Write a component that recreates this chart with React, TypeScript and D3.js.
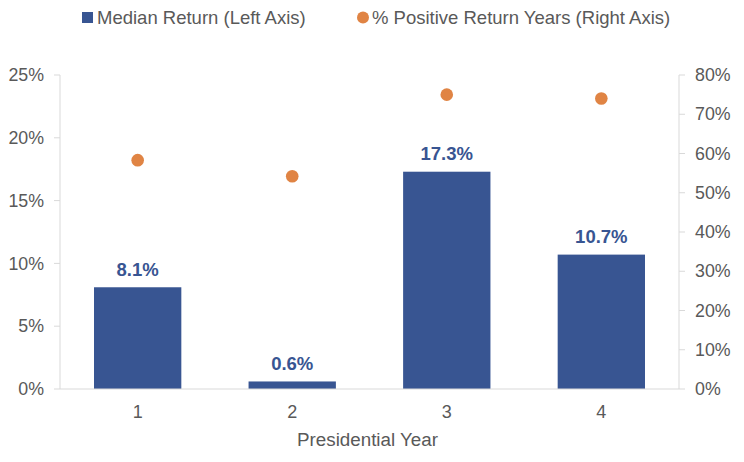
import React from "react";
import * as d3 from "d3";

const categories = ["1", "2", "3", "4"];
const medianReturn = [8.1, 0.6, 17.3, 10.7];
const positiveYears = [58.3, 54.2, 75.0, 74.0];
const leftTicks = [0, 5, 10, 15, 20, 25];
const rightTicks = [0, 10, 20, 30, 40, 50, 60, 70, 80];

const W = 744;
const H = 462;
const FONT = "'Liberation Sans', Arial, sans-serif";
const TEXT = "#595959";
const AXIS = "#d9d9d9";
const BLUE = "#385592";
const ORANGE = "#e08444";

export default function App() {
  const left = 60;
  const right = 679;
  const top = 75;
  const bottom = 389;

  const x = d3.scaleBand<string>().domain(categories).range([left, right]).paddingInner(0.435).paddingOuter(0.22);
  const yL = d3.scaleLinear().domain([0, 25]).range([bottom, top]);
  const yR = d3.scaleLinear().domain([0, 80]).range([bottom, top]);
  const cx = (c: string) => (x(c) as number) + x.bandwidth() / 2;

  return (
    <svg width={W} height={H} style={{ position: "absolute", left: 0, top: 0, background: "#fff" }} fontFamily={FONT}>
      {/* legend */}
      <g>
        <rect x={82} y={12} width={11} height={11} fill={BLUE} />
        <text x={97} y={23.5} fontSize={18.5} fill={TEXT}>Median Return (Left Axis)</text>
        <circle cx={363} cy={17.5} r={6} fill={ORANGE} />
        <text x={372} y={23.5} fontSize={18.5} fill={TEXT}>% Positive Return Years (Right Axis)</text>
      </g>

      {/* left axis */}
      <line x1={left} x2={left} y1={top} y2={bottom} stroke={AXIS} />
      {leftTicks.map((t) => (
        <g key={"l" + t}>
          <line x1={left - 6} x2={left} y1={yL(t)} y2={yL(t)} stroke={AXIS} />
          <text x={44} y={yL(t)} dy="0.35em" textAnchor="end" fontSize={17.8} fill={TEXT}>{t + "%"}</text>
        </g>
      ))}

      {/* right axis */}
      <line x1={right} x2={right} y1={top} y2={bottom} stroke={AXIS} />
      {rightTicks.map((t) => (
        <g key={"r" + t}>
          <line x1={right} x2={right + 6} y1={yR(t)} y2={yR(t)} stroke={AXIS} />
          <text x={695} y={yR(t)} dy="0.35em" textAnchor="start" fontSize={17.8} fill={TEXT}>{t + "%"}</text>
        </g>
      ))}

      {/* bars */}
      {categories.map((c, i) => (
        <g key={"b" + c}>
          <rect x={x(c)} y={yL(medianReturn[i])} width={x.bandwidth()} height={bottom - yL(medianReturn[i])} fill={BLUE} />
          <text x={cx(c)} y={yL(medianReturn[i]) - 11.5} textAnchor="middle" fontSize={18.5} fontWeight="bold" fill={BLUE}>
            {medianReturn[i].toFixed(1) + "%"}
          </text>
        </g>
      ))}

      {/* x axis */}
      <line x1={left} x2={right} y1={bottom} y2={bottom} stroke={AXIS} />
      {categories.map((c) => (
        <text key={"x" + c} x={cx(c)} y={412} dy="0.35em" textAnchor="middle" fontSize={18} fill={TEXT}>{c}</text>
      ))}
      <text x={(left + right) / 2 - 2} y={439} dy="0.35em" textAnchor="middle" fontSize={18.8} fill={TEXT}>Presidential Year</text>

      {/* dots */}
      {categories.map((c, i) => (
        <circle key={"d" + c} cx={cx(c)} cy={yR(positiveYears[i])} r={6.3} fill={ORANGE} />
      ))}
    </svg>
  );
}
